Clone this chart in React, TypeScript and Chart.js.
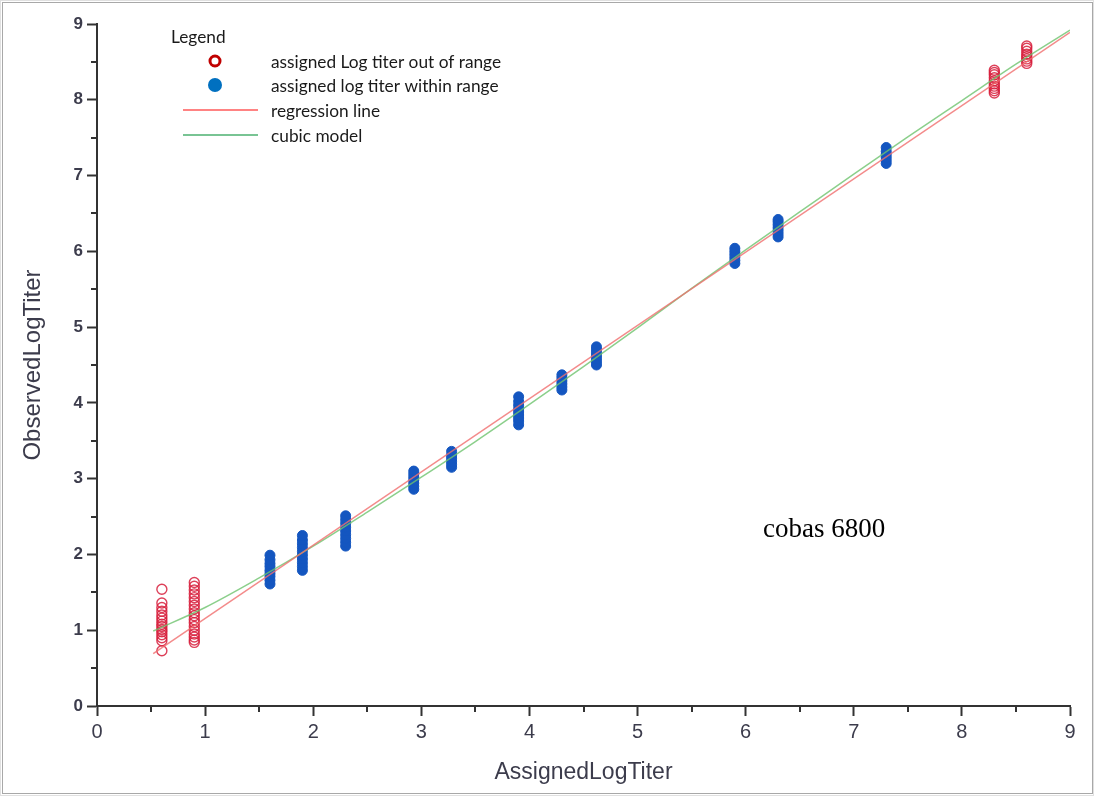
import { useEffect, useRef } from 'react';
import { Chart, registerables } from 'chart.js';

Chart.register(...registerables);

// ---- data ----
const redClusterX = [0.6, 0.9, 8.3, 8.6];
const redClusterY = [
  [0.73, 0.86, 0.9, 0.94, 0.98, 1.01, 1.05, 1.08, 1.12, 1.16, 1.2, 1.25, 1.3, 1.36, 1.54],
  [0.84, 0.87, 0.91, 0.95, 1.0, 1.05, 1.1, 1.14, 1.19, 1.23, 1.28, 1.33, 1.38, 1.43, 1.48, 1.53, 1.58, 1.63],
  [8.09, 8.12, 8.15, 8.18, 8.21, 8.25, 8.29, 8.33, 8.36, 8.39],
  [8.48, 8.51, 8.54, 8.57, 8.6, 8.64, 8.68, 8.71],
];

const blueClusterX = [1.6, 1.9, 2.3, 2.93, 3.28, 3.9, 4.3, 4.62, 5.9, 6.3, 7.3];
const blueClusterY = [
  [1.61, 1.66, 1.71, 1.75, 1.79, 1.84, 1.88, 1.93, 1.99],
  [1.79, 1.84, 1.89, 1.94, 1.99, 2.04, 2.09, 2.14, 2.19, 2.25],
  [2.11, 2.16, 2.21, 2.26, 2.31, 2.36, 2.41, 2.46, 2.51],
  [2.86, 2.9, 2.94, 2.98, 3.02, 3.06, 3.1],
  [3.15, 3.19, 3.23, 3.27, 3.31, 3.36],
  [3.71, 3.76, 3.8, 3.84, 3.88, 3.92, 3.97, 4.02, 4.08],
  [4.17, 4.21, 4.25, 4.29, 4.33, 4.37],
  [4.5, 4.54, 4.58, 4.62, 4.66, 4.7, 4.74],
  [5.84, 5.88, 5.92, 5.96, 6.0, 6.04],
  [6.19, 6.23, 6.27, 6.31, 6.35, 6.39, 6.42],
  [7.16, 7.2, 7.24, 7.28, 7.32, 7.37],
];

const regressionX = [0.52, 9.0];
const regressionY = [0.69, 8.89];

const cubicX = [0.52, 1.0, 1.5, 2.0, 2.5, 3.0, 3.5, 4.0, 4.5, 5.0, 5.5, 6.0, 6.5, 7.0, 7.5, 8.0, 8.5, 9.0];
const cubicY = [0.99, 1.3, 1.69, 2.11, 2.56, 3.02, 3.49, 3.98, 4.48, 4.99, 5.51, 6.02, 6.52, 7.02, 7.51, 7.99, 8.47, 8.92];

const minorTicks = [0.5, 1.5, 2.5, 3.5, 4.5, 5.5, 6.5, 7.5, 8.5];

const legendTitle = 'Legend';
const legendLabels = [
  'assigned Log titer out of range',
  'assigned log titer within range',
  'regression line',
  'cubic model',
];
const annotationText = 'cobas 6800';
const xTitle = 'AssignedLogTiter';
const yTitle = 'ObservedLogTiter';

const AXIS_COLOR = '#333333';
const TEXT_COLOR = '#3c3c4c';

function clusterPoints(xs: number[], ys: number[][]) {
  const out: { x: number; y: number }[] = [];
  xs.forEach((x, i) => ys[i].forEach((y) => out.push({ x, y })));
  return out;
}
function linePoints(xs: number[], ys: number[]) {
  return xs.map((x, i) => ({ x, y: ys[i] }));
}

const decorPlugin = {
  id: 'decor',
  beforeDraw(chart: any) {
    const { ctx, width, height } = chart;
    ctx.save();
    ctx.fillStyle = '#ffffff';
    ctx.fillRect(0, 0, width, height);
    ctx.strokeStyle = '#a8a8a8';
    ctx.lineWidth = 1;
    ctx.strokeRect(2.5, 2.5, width - 4, height - 5);
    ctx.strokeStyle = '#e0e0e0';
    ctx.strokeRect(0.5, 0.5, width - 1, height - 1);
    ctx.restore();
  },
  afterDraw(chart: any) {
    const { ctx } = chart;
    const xs = chart.scales.x;
    const ys = chart.scales.y;
    ctx.save();
    // minor ticks
    ctx.strokeStyle = AXIS_COLOR;
    ctx.lineWidth = 2;
    minorTicks.forEach((v) => {
      const px = Math.round(xs.getPixelForValue(v));
      ctx.beginPath();
      ctx.moveTo(px, xs.top);
      ctx.lineTo(px, xs.top + 6);
      ctx.stroke();
      const py = Math.round(ys.getPixelForValue(v));
      ctx.beginPath();
      ctx.moveTo(ys.right, py);
      ctx.lineTo(ys.right - 6, py);
      ctx.stroke();
    });

    // legend
    ctx.font = '17.3px Lato, "Open Sans", sans-serif';
    ctx.fillStyle = '#1a1a1a';
    ctx.textBaseline = 'middle';
    ctx.textAlign = 'left';
    ctx.fillText(legendTitle, 171, 37);
    const rows = [62, 86, 111, 136];
    legendLabels.forEach((t, i) => ctx.fillText(t, 271, rows[i]));
    // markers
    ctx.beginPath();
    ctx.arc(215, rows[0] - 1, 5, 0, Math.PI * 2);
    ctx.strokeStyle = '#c00000';
    ctx.lineWidth = 3;
    ctx.stroke();
    ctx.beginPath();
    ctx.arc(215, rows[1] - 1, 7, 0, Math.PI * 2);
    ctx.fillStyle = '#0070c0';
    ctx.fill();
    ctx.lineWidth = 1.3;
    ctx.strokeStyle = '#ff5a5a';
    ctx.beginPath();
    ctx.moveTo(183, rows[2] - 1);
    ctx.lineTo(258, rows[2] - 1);
    ctx.stroke();
    ctx.strokeStyle = '#4cb070';
    ctx.beginPath();
    ctx.moveTo(183, rows[3] - 1);
    ctx.lineTo(258, rows[3] - 1);
    ctx.stroke();

    // annotation
    ctx.font = '27px "Liberation Serif", "Times New Roman", serif';
    ctx.fillStyle = '#000000';
    ctx.textBaseline = 'alphabetic';
    ctx.fillText(annotationText, 763, 537);
    ctx.restore();
  },
};

export default function App() {
  const ref = useRef<HTMLCanvasElement>(null);
  useEffect(() => {
    document.body.style.margin = '0';
    const chart = new Chart(ref.current as HTMLCanvasElement, {
      type: 'scatter',
      data: {
        datasets: [
          {
            label: legendLabels[2],
            data: linePoints(regressionX, regressionY),
            showLine: true,
            pointRadius: 0,
            borderColor: 'rgba(240,110,110,0.8)',
            borderWidth: 1.5,
            order: 0,
          },
          {
            label: legendLabels[3],
            data: linePoints(cubicX, cubicY),
            showLine: true,
            pointRadius: 0,
            borderColor: 'rgba(110,195,110,0.8)',
            borderWidth: 1.5,
            cubicInterpolationMode: 'monotone',
            order: 0,
          },
          {
            label: legendLabels[0],
            data: clusterPoints(redClusterX, redClusterY),
            pointStyle: 'circle',
            pointRadius: 5,
            borderWidth: 1.4,
            borderColor: 'rgba(215,30,60,0.85)',
            backgroundColor: 'rgba(0,0,0,0)',
            order: 2,
          },
          {
            label: legendLabels[1],
            data: clusterPoints(blueClusterX, blueClusterY),
            pointStyle: 'circle',
            pointRadius: 5,
            borderWidth: 1,
            borderColor: '#1456c0',
            backgroundColor: '#1456c0',
            order: 1,
          },
        ],
      } as any,
      options: {
        animation: false,
        responsive: false,
        events: [],
        layout: { padding: { top: 24, right: 24, left: 0, bottom: 0 } },
        plugins: { legend: { display: false }, tooltip: { enabled: false } },
        scales: {
          x: {
            type: 'linear',
            min: 0,
            max: 9,
            ticks: {
              stepSize: 1,
              padding: 4,
              color: TEXT_COLOR,
              font: { family: '"Liberation Sans Narrow", "Liberation Sans", Arial, sans-serif', size: 20 },
            },
            grid: {
              drawOnChartArea: false,
              drawTicks: true,
              tickLength: 10,
              tickWidth: 2,
              tickColor: AXIS_COLOR,
            },
            border: { display: true, color: AXIS_COLOR, width: 2 },
            title: {
              display: true,
              text: xTitle,
              color: TEXT_COLOR,
              padding: { top: 4, bottom: 10 },
              font: { family: '"Liberation Sans Narrow", "Liberation Sans", Arial, sans-serif', size: 23 },
            },
            afterFit: (s: any) => {
              s.height = 90;
            },
          },
          y: {
            type: 'linear',
            min: 0,
            max: 9,
            ticks: {
              stepSize: 1,
              padding: 4,
              color: TEXT_COLOR,
              font: { family: '"Liberation Sans", Arial, sans-serif', size: 17, weight: 'bold' },
            },
            grid: {
              drawOnChartArea: false,
              drawTicks: true,
              tickLength: 10,
              tickWidth: 2,
              tickColor: AXIS_COLOR,
            },
            border: { display: true, color: AXIS_COLOR, width: 2 },
            title: {
              display: true,
              text: yTitle,
              color: TEXT_COLOR,
              padding: { top: 19, bottom: 4 },
              font: { family: '"Liberation Sans Narrow", "Liberation Sans", Arial, sans-serif', size: 24 },
            },
            afterFit: (s: any) => {
              s.width = 97;
            },
          },
        },
      } as any,
      plugins: [decorPlugin],
    });
    return () => chart.destroy();
  }, []);
  return (
    <div style={{ width: 1094, height: 796 }}>
      <canvas ref={ref} width={1094} height={796} style={{ display: 'block' }} />
    </div>
  );
}
